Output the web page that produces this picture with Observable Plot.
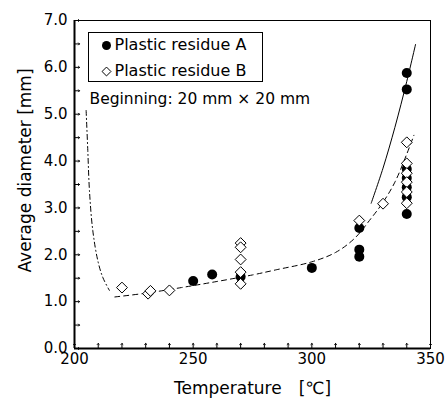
<!DOCTYPE html>
<html>
<head>
<meta charset="utf-8">
<script src="https://cdn.jsdelivr.net/npm/d3@7"></script>
<script src="https://cdn.jsdelivr.net/npm/@observablehq/plot@0.6"></script>
<style>
  body { margin: 0; background: #fff; }
  #wrap { position: relative; width: 445px; height: 399px; font-family: "DejaVu Sans", sans-serif; }
  #legendBox { position: absolute; left: 88px; top: 32px; width: 175px; height: 50px; border: 1px solid #000; box-sizing: border-box; pointer-events: none; }
</style>
</head>
<body>
<div id="wrap"><div id="legendBox"></div></div>
<script>
// ---- data ----
const seriesA_T = [250, 258, 270, 300, 320, 320, 320, 340, 340, 340, 340, 340, 340, 340];
const seriesA_D = [1.44, 1.58, 1.53, 1.72, 2.57, 2.11, 1.96, 5.88, 5.53, 3.83, 3.64, 3.44, 3.23, 2.87];

const seriesB_T = [220, 231, 232, 240, 270, 270, 270, 270, 270, 320, 330, 340, 340, 340, 340, 340, 340];
const seriesB_D = [1.30, 1.17, 1.23, 1.24, 2.25, 2.16, 1.90, 1.63, 1.38, 2.73, 3.09, 4.40, 3.95, 3.74, 3.55, 3.34, 3.10];

// fitted curves
const curveA_T = [325, 330, 335, 340, 343.7];
const curveA_D = [3.10, 3.85, 4.72, 5.70, 6.49];

const curveB_T = [217, 230, 245, 260, 275, 285, 300, 310, 318, 325, 330, 335, 340, 343];
const curveB_D = [1.10, 1.18, 1.30, 1.43, 1.57, 1.68, 1.85, 2.05, 2.35, 2.78, 3.12, 3.55, 4.15, 4.55];

const curveC_T = [204.9, 205.6, 206.3, 207.7, 209.8, 211.9, 214.7];
const curveC_D = [5.08, 4.23, 3.37, 2.52, 1.88, 1.52, 1.24];

const xTickLabels = [200, 250, 300, 350];
const xMinorTicks = [200, 210, 220, 230, 240, 250, 260, 270, 280, 290, 300, 310, 320, 330, 340, 350];
const yTickLabels = [0, 1, 2, 3, 4, 5, 6, 7];
const yMinorTicks = [0, 0.5, 1, 1.5, 2, 2.5, 3, 3.5, 4, 4.5, 5, 5.5, 6, 6.5, 7];

const legendLabels = ["Plastic residue A", "Plastic residue B"];
const noteText = "Beginning: 20 mm \u00d7 20 mm";
const xTitle = "Temperature\u3000[\u2103]";
const yTitle = "Average diameter [mm]";

// ---- tables ----
const A = seriesA_T.map((t, i) => ({t, d: seriesA_D[i]}));
const B = seriesB_T.map((t, i) => ({t, d: seriesB_D[i]}));
const cA = curveA_T.map((t, i) => ({t, d: curveA_D[i]}));
const cB = curveB_T.map((t, i) => ({t, d: curveB_D[i]}));
const cC = curveC_T.map((t, i) => ({t, d: curveC_D[i]}));

const chart = Plot.plot({
  width: 445,
  height: 399,
  marginLeft: 74,
  marginRight: 15,
  marginTop: 20,
  marginBottom: 51,
  style: {fontFamily: "DejaVu Sans, sans-serif", fontSize: "15px", background: "#fff", color: "#000", overflow: "visible"},
  x: {domain: [200, 350]},
  y: {domain: [0, 7]},
  marks: [
    Plot.frame({stroke: "#000", strokeWidth: 1}),
    Plot.ruleX([200], {stroke: "#000", strokeWidth: 2}),
    Plot.ruleY([0], {stroke: "#000", strokeWidth: 2}),
    // inward ticks
    Plot.vector(xMinorTicks, {x: d => d, frameAnchor: "bottom", length: 5, rotate: 0, anchor: "start", stroke: "#000", strokeWidth: 1}),
    Plot.vector(yMinorTicks, {y: d => d, frameAnchor: "left", length: 5, rotate: 90, anchor: "start", stroke: "#000", strokeWidth: 1}),
    Plot.axisX(xTickLabels, {tickSize: 0, tickPadding: 5, fontSize: 15, label: null, tickFormat: d => String(d)}),
    Plot.axisY(yTickLabels, {tickSize: 0, tickPadding: 7, fontSize: 15, label: null, tickFormat: d => d.toFixed(1)}),
    // curves
    Plot.line(cC, {x: "t", y: "d", curve: "catmull-rom", stroke: "#000", strokeWidth: 1, strokeDasharray: "5,3,1,3"}),
    Plot.line(cB, {x: "t", y: "d", curve: "catmull-rom", stroke: "#000", strokeWidth: 1, strokeDasharray: "5,4"}),
    Plot.line(cA, {x: "t", y: "d", curve: "catmull-rom", stroke: "#000", strokeWidth: 1}),
    // points
    Plot.dot(A, {x: "t", y: "d", r: 5, fill: "#000", stroke: "none"}),
    Plot.dot(B, {x: "t", y: "d", r: 4.9, symbol: "diamond2", fill: "#fff", stroke: "#000", strokeWidth: 1}),
    // legend symbols and texts
    Plot.dot([legendLabels[0]], {frameAnchor: "top-left", dx: 32, dy: 25, r: 4.5, fill: "#000", stroke: "none"}),
    Plot.dot([legendLabels[1]], {frameAnchor: "top-left", dx: 32, dy: 51, r: 4, symbol: "diamond2", fill: "#fff", stroke: "#000", strokeWidth: 1}),
    Plot.text([legendLabels[0]], {frameAnchor: "top-left", dx: 40, dy: 24, text: d => d, textAnchor: "start", lineAnchor: "middle", fontSize: 16}),
    Plot.text([legendLabels[1]], {frameAnchor: "top-left", dx: 40, dy: 50, text: d => d, textAnchor: "start", lineAnchor: "middle", fontSize: 16}),
    Plot.text([noteText], {frameAnchor: "top-left", dx: 15, dy: 79, text: d => d, textAnchor: "start", lineAnchor: "middle", fontSize: 15.5}),
    // axis titles
    Plot.text([xTitle], {frameAnchor: "bottom", dy: 40, text: d => d, textAnchor: "middle", lineAnchor: "middle", fontSize: 17}),
    Plot.text([yTitle], {frameAnchor: "left", dx: -49, dy: -14, rotate: -90, text: d => d, textAnchor: "middle", lineAnchor: "middle", fontSize: 17})
  ]
});
document.getElementById("wrap").prepend(chart);
</script>
</body>
</html>
